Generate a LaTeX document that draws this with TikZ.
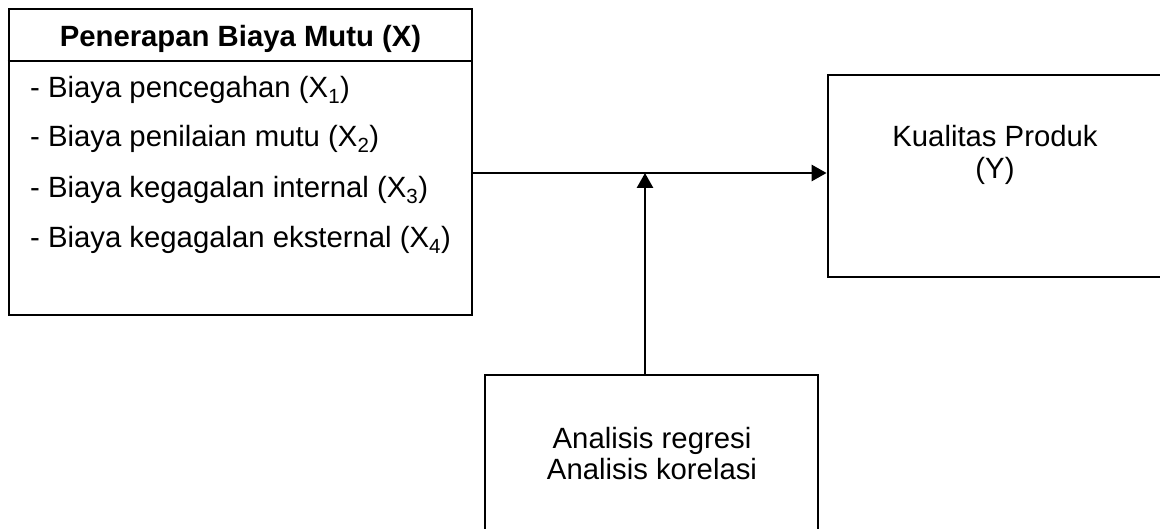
\documentclass[tikz,border=0pt]{standalone}
\usepackage{fontspec}
\setmainfont{Liberation Sans}
\usetikzlibrary{arrows.meta}
\begin{document}
\begin{tikzpicture}[x=1pt,y=-1pt,
  box/.style={draw=black,line width=2.8pt,rectangle,inner sep=0pt},
  txt/.style={inner sep=0pt,font=\fontsize{29.3}{34}\selectfont},
  hdr/.style={inner sep=0pt,font=\fontsize{29.3}{34}\selectfont\bfseries},
  conn/.style={line width=2.8pt,-{Triangle[length=15pt,width=16pt]}}]
\useasboundingbox (0,0) rectangle (1160,529);
\clip (0,0) rectangle (1160,529);
% boxes
\node[box,minimum width=463pt,minimum height=306pt] (X) at (240.5,162) {};
\node[box,minimum width=337pt,minimum height=202pt] (Y) at (996.5,176) {};
\node[box,minimum width=333pt,minimum height=170pt] (A) at (651.5,460) {};
\coordinate (div) at (0,61);
\draw[line width=2.8pt] (X.west |- div) -- (X.east |- div);
% texts
\node[hdr,anchor=base] (h) at (240.5,47) {Penerapan Biaya Mutu (X)};
\node[txt,anchor=base west] (l1) at (30,98) {- Biaya pencegahan (X\textsubscript{1})};
\node[txt,anchor=base west] (l2) at (30,147) {- Biaya penilaian mutu (X\textsubscript{2})};
\node[txt,anchor=base west] (l3) at (30,198) {- Biaya kegagalan internal (X\textsubscript{3})};
\node[txt,anchor=base west] (l4) at (30,248) {- Biaya kegagalan eksternal (X\textsubscript{4})};
\node[txt,anchor=base] (y1) at (995,147) {Kualitas Produk};
\node[txt,anchor=base] (y2) at (995,179) {(Y)};
\node[txt,anchor=base] (a1) at (652,448) {Analisis regresi};
\node[txt,anchor=base] (a2) at (652,479) {Analisis korelasi};
% connectors
\coordinate (j) at (645,173);
\draw[conn] (X.east |- j) -- (Y.west |- j);
\draw[conn] (A.north -| j) -- (j);
\end{tikzpicture}
\end{document}
